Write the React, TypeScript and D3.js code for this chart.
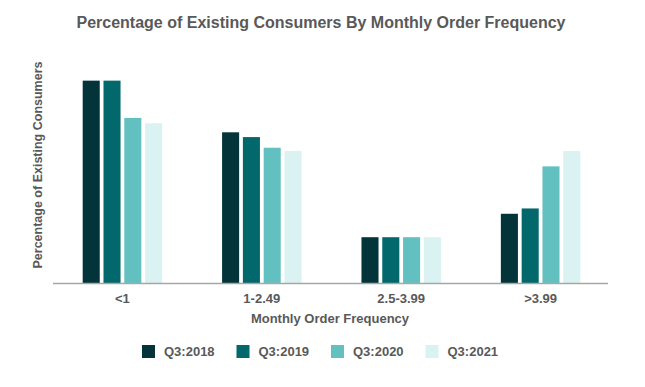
import React from "react";
import { scaleBand, scaleLinear } from "d3";

const categories = ["<1", "1-2.49", "2.5-3.99", ">3.99"];
const seriesNames = ["Q3:2018", "Q3:2019", "Q3:2020", "Q3:2021"];
// one array per series, values in the order of categories
const q32018 = [38, 28.3, 8.6, 13];
const q32019 = [38, 27.4, 8.6, 14];
const q32020 = [31, 25.4, 8.6, 21.9];
const q32021 = [30, 24.8, 8.6, 24.8];
const seriesValues = [q32018, q32019, q32020, q32021];

const colors = ["#02343A", "#02686B", "#62C0C1", "#DBF2F2"];
const textColor = "#595959";
const font = "'Liberation Sans', Arial, sans-serif";

export default function App() {
  const width = 645;
  const height = 387;

  const plot = { left: 53, right: 610, top: 70, bottom: 283 };

  const x = scaleBand()
    .domain(categories)
    .range([plot.left, plot.right])
    .paddingInner(0.43)
    .paddingOuter(0.213);

  const xInner = scaleBand()
    .domain(seriesNames)
    .range([0, x.bandwidth()])
    .paddingInner(0.18)
    .paddingOuter(0);

  const y = scaleLinear().domain([0, 40]).range([plot.bottom, plot.top]);

  const legendX = scaleBand()
    .domain(seriesNames)
    .range([142, 520]);

  return (
    <div style={{ position: "fixed", left: 0, top: 0 }}>
      <svg width={width} height={height} style={{ display: "block", background: "white" }}>
        <text
          x={321}
          y={28}
          textAnchor="middle"
          fontFamily={font}
          fontWeight="bold"
          fontSize="16px"
          fill={textColor}
        >
          Percentage of Existing Consumers By Monthly Order Frequency
        </text>

        {categories.map((cat, ci) => (
          <g key={cat} transform={`translate(${x(cat)},0)`}>
            {seriesNames.map((s, si) => (
              <rect
                key={s}
                x={xInner(s)}
                y={y(seriesValues[si][ci])}
                width={xInner.bandwidth()}
                height={plot.bottom - y(seriesValues[si][ci])}
                fill={colors[si]}
              />
            ))}
          </g>
        ))}

        <line
          x1={plot.left}
          x2={plot.right - 2}
          y1={plot.bottom + 0.5}
          y2={plot.bottom + 0.5}
          stroke="#A6A6A6"
          strokeWidth={1.5}
        />

        {categories.map((cat) => (
          <text
            key={`label${cat}`}
            x={x(cat) + x.bandwidth() / 2}
            y={303}
            textAnchor="middle"
            fontFamily={font}
            fontWeight="bold"
            fontSize="13px"
            fill={textColor}
          >
            {cat}
          </text>
        ))}

        <text
          x={330}
          y={323}
          textAnchor="middle"
          fontFamily={font}
          fontWeight="bold"
          fontSize="13px"
          fill={textColor}
        >
          Monthly Order Frequency
        </text>

        <text
          transform={`translate(42,165) rotate(-90)`}
          textAnchor="middle"
          fontFamily={font}
          fontWeight="bold"
          fontSize="12.5px"
          fill={textColor}
        >
          Percentage of Existing Consumers
        </text>

        {seriesNames.map((s, i) => (
          <g key={`legend${s}`} transform={`translate(${legendX(s)},345)`}>
            <rect width={13} height={13} fill={colors[i]} />
            <text
              x={22}
              y={11}
              fontFamily={font}
              fontWeight="bold"
              fontSize="13px"
              fill={textColor}
            >
              {s}
            </text>
          </g>
        ))}
      </svg>
    </div>
  );
}
